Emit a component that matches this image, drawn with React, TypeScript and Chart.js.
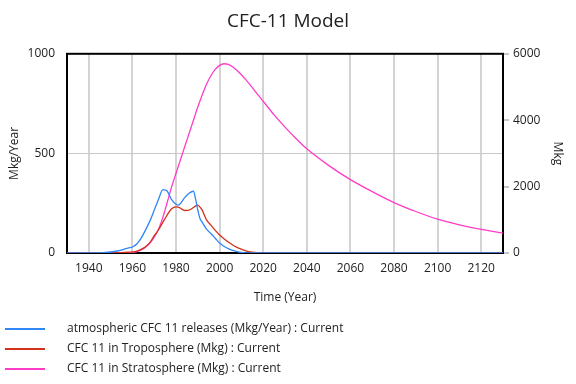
import React, { useEffect, useRef } from "react";
import { Chart, registerables } from "chart.js";

Chart.register(...registerables);

const years = [
  1930, 1945, 1950, 1955, 1958, 1960, 1962, 1964, 1966, 1968,
  1970, 1972, 1974, 1975, 1976, 1978, 1980, 1981, 1982, 1984,
  1986, 1988, 1989, 1990, 1991, 1992, 1994, 1996, 1998, 2000,
  2002, 2004, 2006, 2008, 2010, 2012, 2015, 2018, 2020, 2025,
  2030, 2035, 2040, 2050, 2060, 2070, 2080, 2090, 2100, 2110,
  2120, 2130,
];

// Mkg/Year (left axis)
const releases = [
  0, 1, 5, 15, 25, 30, 45, 75, 115, 160,
  215, 270, 318, 316, 310, 268, 245, 240, 248, 278,
  300, 310, 270, 215, 173, 155, 120, 98, 74, 50,
  34, 22, 13, 7, 3, 1, 0, 0, 0, 0,
  0, 0, 0, 0, 0, 0, 0, 0, 0, 0,
  0, 0,
];

// Mkg (right axis)
const troposphere = [
  0, 0, 1, 8, 22, 35, 60, 110, 190, 310,
  520, 700, 930, 1040, 1150, 1330, 1390, 1385, 1350, 1280,
  1290, 1370, 1420, 1440, 1380, 1290, 1000, 840, 680, 545,
  430, 330, 240, 170, 115, 65, 25, 6, 2, 0,
  0, 0, 0, 0, 0, 0, 0, 0, 0, 0,
  0, 0,
];

// Mkg (right axis)
const stratosphere = [
  0, 0, 0, 2, 8, 18, 45, 95, 175, 300,
  480, 720, 1080, 1300, 1530, 1990, 2400, 2600, 2800, 3200,
  3600, 4000, 4200, 4400, 4580, 4760, 5080, 5340, 5530, 5650,
  5700, 5680, 5610, 5500, 5370, 5220, 4980, 4730, 4570, 4160,
  3790, 3450, 3140, 2640, 2210, 1850, 1520, 1250, 1020, 850,
  710, 600,
];

const xTicks = [1940, 1960, 1980, 2000, 2020, 2040, 2060, 2080, 2100, 2120];
const leftTicks = [0, 500, 1000];
const rightTicks = [0, 2000, 4000, 6000];

const seriesLabels = [
  "atmospheric CFC 11 releases (Mkg/Year) : Current",
  "CFC 11 in Troposphere (Mkg) : Current",
  "CFC 11 in Stratosphere (Mkg) : Current",
];
const seriesColors = ["#2f86f5", "#d2321a", "#ff3cc8"];

const TEXT = "#222";
const FONT = "'Open Sans', sans-serif";

export default function App() {
  const ref = useRef<HTMLCanvasElement>(null);

  useEffect(() => {
    if (!ref.current) return;
    Chart.defaults.font.family = FONT;
    const toPts = (vals: number[]) => years.map((x, i) => ({ x, y: vals[i] }));
    const plain = (v: any) => String(v);

    const frame = {
      id: "frame",
      beforeDatasetsDraw(chart: any) {
        const { ctx, chartArea } = chart;
        const { left, top, right, bottom } = chartArea;
        ctx.save();
        ctx.strokeStyle = "#000";
        ctx.lineWidth = 2;
        ctx.strokeRect(left, top, right - left, bottom - top);
        ctx.restore();
      },
    };

    const customLegend = {
      id: "customLegend",
      afterDraw(chart: any) {
        const { ctx } = chart;
        ctx.save();
        ctx.font = `12px ${FONT}`;
        ctx.textBaseline = "middle";
        ctx.textAlign = "left";
        seriesLabels.forEach((label, i) => {
          const y = 329 + i * 20;
          ctx.strokeStyle = seriesColors[i];
          ctx.lineWidth = 2;
          ctx.beginPath();
          ctx.moveTo(5, y);
          ctx.lineTo(45, y);
          ctx.stroke();
          ctx.fillStyle = TEXT;
          ctx.fillText(label, 67, y);
        });
        ctx.restore();
      },
    };

    const chart = new Chart(ref.current, {
      type: "line",
      data: {
        datasets: [
          {
            label: seriesLabels[0],
            data: toPts(releases),
            borderColor: seriesColors[0],
            yAxisID: "y",
          },
          {
            label: seriesLabels[1],
            data: toPts(troposphere),
            borderColor: seriesColors[1],
            yAxisID: "y1",
          },
          {
            label: seriesLabels[2],
            data: toPts(stratosphere),
            borderColor: seriesColors[2],
            yAxisID: "y1",
          },
        ].map((d) => ({
          ...d,
          borderWidth: 1.3,
          pointRadius: 0,
          fill: false,
          cubicInterpolationMode: "monotone" as const,
        })),
      },
      options: {
        responsive: false,
        animation: false,
        parsing: false as any,
        layout: { padding: { left: 0, right: 0, top: 0, bottom: 75 } },
        plugins: {
          legend: { display: false },
          tooltip: { enabled: false },
          title: {
            display: true,
            text: "CFC-11 Model",
            color: TEXT,
            font: { size: 19, weight: "normal" as any },
            padding: { top: 10, bottom: 21 },
          },
        },
        scales: {
          x: {
            type: "linear",
            min: 1930,
            max: 2130,
            afterBuildTicks: (s: any) => {
              s.ticks = xTicks.map((v) => ({ value: v }));
            },
            afterFit: (s: any) => {
              s.height = 56;
            },
            ticks: {
              color: TEXT,
              font: { size: 12 },
              padding: 8,
              maxRotation: 0,
              autoSkip: false,
              callback: plain,
            },
            grid: { color: "#d4d4d4", lineWidth: 2, drawTicks: false },
            border: { display: false },
            title: {
              display: true,
              text: "Time (Year)",
              color: TEXT,
              font: { size: 12 },
              padding: { top: 0, bottom: 4 },
            },
          },
          y: {
            type: "linear",
            position: "left",
            min: 0,
            max: 1000,
            afterBuildTicks: (s: any) => {
              s.ticks = leftTicks.map((v) => ({ value: v }));
            },
            afterFit: (s: any) => {
              s.width = 67;
            },
            ticks: { color: TEXT, font: { size: 12 }, padding: 12, callback: plain },
            grid: { color: "#c8c8c8", lineWidth: 1, drawTicks: false },
            border: { display: false },
            title: {
              display: true,
              text: "Mkg/Year",
              color: TEXT,
              font: { size: 12 },
              padding: { top: 7, bottom: 0 },
            },
          },
          y1: {
            type: "linear",
            position: "right",
            min: 0,
            max: 6000,
            afterBuildTicks: (s: any) => {
              s.ticks = rightTicks.map((v) => ({ value: v }));
            },
            afterFit: (s: any) => {
              s.width = 73;
            },
            ticks: { color: TEXT, font: { size: 12 }, padding: 4, callback: plain },
            grid: {
              drawOnChartArea: false,
              color: "#c8c8c8",
              lineWidth: 2,
              tickLength: 6,
            },
            border: { display: false },
            title: {
              display: true,
              text: "Mkg",
              color: TEXT,
              font: { size: 12 },
              padding: { top: 11, bottom: 0 },
            },
          },
        },
      },
      plugins: [frame, customLegend],
    });

    return () => chart.destroy();
  }, []);

  return (
    <div style={{ position: "absolute", left: 0, top: 0, width: 576, height: 384 }}>
      <canvas ref={ref} width={576} height={384} style={{ display: "block" }} />
    </div>
  );
}
